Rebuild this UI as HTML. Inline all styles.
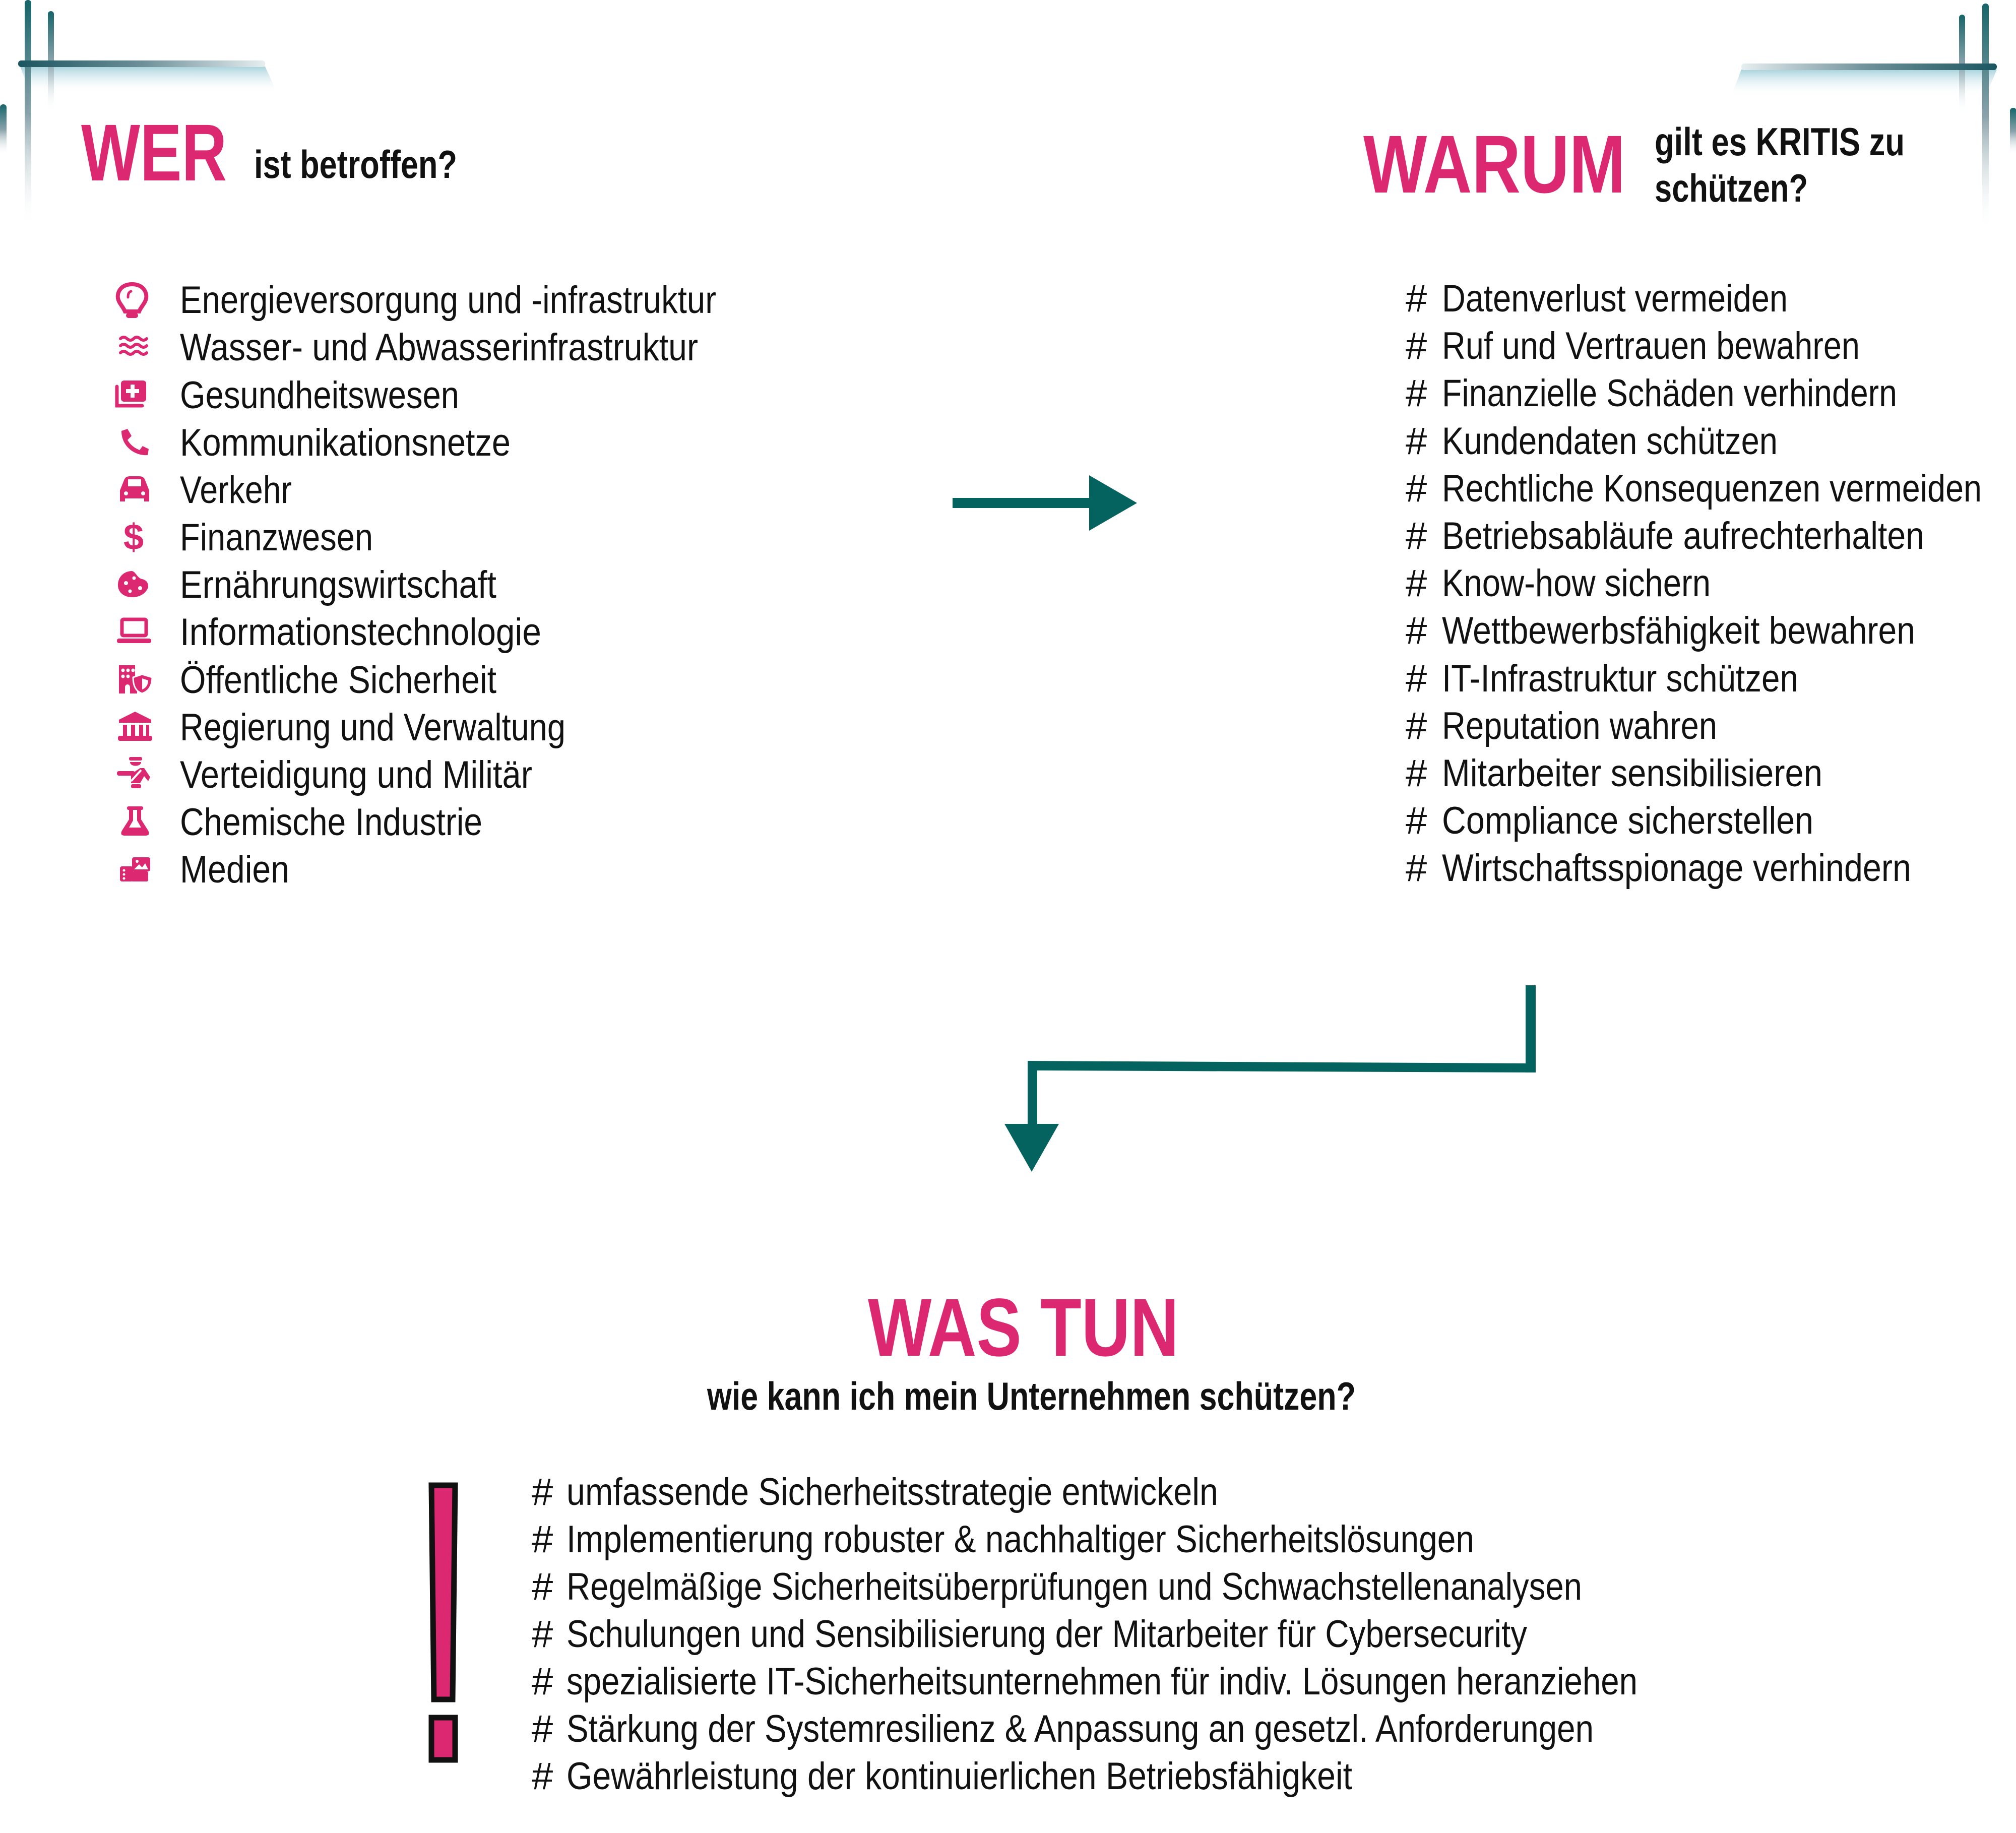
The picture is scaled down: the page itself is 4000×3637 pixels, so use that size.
<!DOCTYPE html>
<html><head><meta charset="utf-8"><style>
html,body{margin:0;padding:0;background:#fff;}
svg{display:block;}
text{font-family:"Liberation Sans Narrow","Liberation Sans",sans-serif;}
.r{font-size:76px;fill:#111;}
.b{font-weight:bold;fill:#111;}
.p{font-weight:bold;fill:#DC2870;}
</style></head><body>
<svg width="4000" height="3637" viewBox="0 0 4000 3637" xmlns="http://www.w3.org/2000/svg">
<defs>
<linearGradient id="vL" x1="0" y1="0" x2="0" y2="1"><stop offset="0" stop-color="#17656a"/><stop offset="0.5" stop-color="#8aa3ab"/><stop offset="1" stop-color="#fff" stop-opacity="0"/></linearGradient>
<linearGradient id="hL" x1="0" y1="0" x2="1" y2="0"><stop offset="0" stop-color="#1a5660"/><stop offset="0.5" stop-color="#6d8f98"/><stop offset="1" stop-color="#e6eef0"/></linearGradient>
<linearGradient id="hR" x1="1" y1="0" x2="0" y2="0"><stop offset="0" stop-color="#1a5660"/><stop offset="0.5" stop-color="#6d8f98"/><stop offset="1" stop-color="#e6eef0"/></linearGradient>
<linearGradient id="gl" x1="0" y1="0" x2="0" y2="1"><stop offset="0" stop-color="#a8d3dc"/><stop offset="1" stop-color="#fff" stop-opacity="0"/></linearGradient>
</defs>

<!-- top-left decoration -->
<polygon points="40,132 526,132 550,185 60,185" fill="url(#gl)"/>
<rect x="49" y="0" width="13" height="450" rx="6" fill="url(#vL)"/>
<rect x="95" y="22" width="12" height="200" rx="6" fill="url(#vL)"/>
<rect x="36" y="120" width="490" height="13" rx="6" fill="url(#hL)"/>
<rect x="0" y="207" width="13" height="101" rx="6" fill="url(#vL)"/>

<!-- top-right decoration -->
<polygon points="3455,138 3962,138 3940,190 3435,190" fill="url(#gl)"/>
<rect x="3933" y="7" width="13" height="450" rx="6" fill="url(#vL)"/>
<rect x="3887" y="29" width="12" height="198" rx="6" fill="url(#vL)"/>
<rect x="3455" y="126" width="507" height="13" rx="6" fill="url(#hR)"/>
<rect x="3988" y="214" width="13" height="94" rx="6" fill="url(#vL)"/>

<!-- headings -->
<text class="p" x="161" y="358" font-size="160" textLength="289" lengthAdjust="spacingAndGlyphs">WER</text>
<text class="b" x="504" y="353" font-size="78" textLength="403" lengthAdjust="spacingAndGlyphs">ist betroffen?</text>
<text class="p" x="2705" y="382" font-size="163" textLength="520" lengthAdjust="spacingAndGlyphs">WARUM</text>
<text class="b" x="3283" y="308" font-size="78" textLength="496" lengthAdjust="spacingAndGlyphs">gilt es KRITIS zu</text>
<text class="b" x="3283" y="400" font-size="78" textLength="304" lengthAdjust="spacingAndGlyphs">schützen?</text>

<!-- left list -->
<g class="r">
<text x="357" y="621" textLength="1064" lengthAdjust="spacingAndGlyphs">Energieversorgung und -infrastruktur</text>
<text x="357" y="715" textLength="1028" lengthAdjust="spacingAndGlyphs">Wasser- und Abwasserinfrastruktur</text>
<text x="357" y="810" textLength="554" lengthAdjust="spacingAndGlyphs">Gesundheitswesen</text>
<text x="357" y="904" textLength="656" lengthAdjust="spacingAndGlyphs">Kommunikationsnetze</text>
<text x="357" y="998" textLength="222" lengthAdjust="spacingAndGlyphs">Verkehr</text>
<text x="357" y="1092" textLength="383" lengthAdjust="spacingAndGlyphs">Finanzwesen</text>
<text x="357" y="1186" textLength="628" lengthAdjust="spacingAndGlyphs">Ernährungswirtschaft</text>
<text x="357" y="1280" textLength="717" lengthAdjust="spacingAndGlyphs">Informationstechnologie</text>
<text x="357" y="1375" textLength="628" lengthAdjust="spacingAndGlyphs">Öffentliche Sicherheit</text>
<text x="357" y="1469" textLength="765" lengthAdjust="spacingAndGlyphs">Regierung und Verwaltung</text>
<text x="357" y="1563" textLength="699" lengthAdjust="spacingAndGlyphs">Verteidigung und Militär</text>
<text x="357" y="1657" textLength="600" lengthAdjust="spacingAndGlyphs">Chemische Industrie</text>
<text x="357" y="1751" textLength="217" lengthAdjust="spacingAndGlyphs">Medien</text>
</g>

<!-- icons -->
<g fill="#DC2870" stroke="none">
<!-- bulb -->
<g transform="translate(262,594)">
<path d="M0,-30 C-22,-30 -30,-14 -28,-2 C-26,8 -18,14 -14,24 L14,24 C18,14 26,8 28,-2 C30,-14 22,-30 0,-30 Z" fill="none" stroke="#DC2870" stroke-width="8"/>
<path d="M-2,-16 C-8,-14 -8,-8 -8,-4" fill="none" stroke="#DC2870" stroke-width="5" stroke-linecap="round"/>
<rect x="-12" y="27" width="24" height="10" rx="5"/>
</g>
<!-- waves -->
<g transform="translate(265,688)" fill="none" stroke="#DC2870" stroke-width="6" stroke-linecap="round">
<path d="M-26,-16 q6,-6 13,0 t13,0 t13,0 t13,0"/>
<path d="M-26,-2 q6,-6 13,0 t13,0 t13,0 t13,0"/>
<path d="M-26,12 q6,-6 13,0 t13,0 t13,0 t13,0"/>
</g>
<!-- medical -->
<g transform="translate(262,783)">
<path d="M-30,-16 L-30,22 L20,22" fill="none" stroke="#DC2870" stroke-width="7" stroke-linecap="round"/>
<rect x="-22" y="-28" width="50" height="42" rx="6"/>
<rect x="-3" y="-20" width="8" height="26" fill="#fff"/><rect x="-12" y="-11" width="26" height="8" fill="#fff"/>
</g>
<!-- phone -->
<g transform="translate(265,877)">
<path d="M-24,-22 L-12,-26 L-4,-12 L-12,-4 C-6,6 2,12 12,16 L18,8 L30,14 L28,26 C4,28 -24,10 -24,-22 Z"/>
</g>
<!-- car -->
<g transform="translate(266,971)">
<path d="M-28,2 L-20,-18 C-18,-24 -14,-26 -8,-26 L10,-26 C16,-26 20,-24 22,-18 L30,2 L30,24 L20,24 L20,18 L-18,18 L-18,24 L-28,24 Z"/>
<rect x="-12" y="-20" width="26" height="14" fill="#fff"/>
<circle cx="-16" cy="8" r="4" fill="#fff"/><circle cx="18" cy="8" r="4" fill="#fff"/>
</g>
<!-- dollar -->
<text x="265" y="1090" text-anchor="middle" font-size="72" font-weight="bold" fill="#DC2870">$</text>
<!-- cookie -->
<g transform="translate(264,1159)">
<path d="M-30,2 C-30,-18 -14,-26 -2,-26 C6,-24 8,-12 18,-10 C26,-8 30,-4 30,6 C26,18 14,26 -2,26 C-18,26 -30,16 -30,2 Z"/>
<circle cx="-14" cy="-2" r="4" fill="#fff"/><circle cx="2" cy="-12" r="3.5" fill="#fff"/><circle cx="14" cy="8" r="4" fill="#fff"/><circle cx="-6" cy="14" r="3.5" fill="#fff"/>
</g>
<!-- laptop -->
<g transform="translate(266,1253)">
<rect x="-24" y="-24" width="48" height="32" fill="none" stroke="#DC2870" stroke-width="7" rx="3"/>
<rect x="-34" y="14" width="68" height="9" rx="4"/>
</g>
<!-- building shield -->
<g transform="translate(268,1348)">
<path d="M-32,-28 L0,-28 L0,-2 L4,-2 L4,28 L-10,28 L-10,16 C-10,8 -20,8 -20,16 L-20,28 L-32,28 Z"/>
<circle cx="-24" cy="-18" r="3.5" fill="#fff"/><circle cx="-14" cy="-18" r="3.5" fill="#fff"/><circle cx="-4" cy="-18" r="3.5" fill="#fff"/>
<circle cx="-24" cy="-6" r="3.5" fill="#fff"/><circle cx="-14" cy="-6" r="3.5" fill="#fff"/>
<path d="M14,-10 L34,-4 C34,14 26,24 14,28 C2,24 -4,14 -4,-4 Z" fill="#DC2870" stroke="#fff" stroke-width="3"/>
<path d="M14,-2 L26,2 C26,12 20,18 14,20 Z" fill="#fff"/>
</g>
<!-- bank -->
<g transform="translate(268,1442)">
<path d="M-32,-14 L0,-30 L32,-14 L32,-8 L-32,-8 Z"/>
<rect x="-24" y="-4" width="8" height="22"/><rect x="-8" y="-4" width="8" height="22"/><rect x="8" y="-4" width="8" height="22"/><rect x="22" y="-4" width="6" height="22"/>
<rect x="-34" y="18" width="68" height="10" rx="4"/>
</g>
<!-- police -->
<g transform="translate(266,1536)">
<rect x="-10" y="-34" width="26" height="7" rx="3"/>
<path d="M-8,-24 L14,-24 C14,-14 -8,-14 -8,-24 Z"/>
<rect x="-34" y="-6" width="36" height="9" rx="4"/>
<path d="M-6,0 L12,-12 L20,-12 L32,6 L28,14 L20,4 L12,18 L-6,18 Z"/>
<path d="M-6,14 L14,-8" stroke="#fff" stroke-width="4"/>
<rect x="-6" y="20" width="20" height="8" rx="3"/>
</g>
<!-- flask -->
<g transform="translate(268,1630)">
<rect x="-16" y="-30" width="32" height="7" rx="3"/>
<path d="M-12,-24 L-12,-4 L-26,18 C-30,26 -26,28 -20,28 L20,28 C26,28 30,26 26,18 L12,-4 L12,-24 L4,-24 L4,-2 L12,12 L-12,12 L-4,-2 L-4,-24 Z"/>
</g>
<!-- media -->
<g transform="translate(268,1725)">
<rect x="-30" y="-6" width="26" height="30" rx="4"/>
<rect x="-6" y="-24" width="36" height="28" rx="4"/>
<rect x="-8" y="4" width="34" height="20" rx="3"/>
<path d="M-2,0 L8,-10 L14,-4 L20,-12 L26,0 Z" fill="#fff"/>
<circle cx="4" cy="-16" r="3" fill="#fff"/>
<circle cx="-22" cy="2" r="2.5" fill="#fff"/><circle cx="-22" cy="10" r="2.5" fill="#fff"/><circle cx="-22" cy="18" r="2.5" fill="#fff"/>
</g>
</g>

<!-- right list -->
<g class="r">
<text x="2789" y="618">#</text><text x="2861" y="618" textLength="686" lengthAdjust="spacingAndGlyphs">Datenverlust vermeiden</text>
<text x="2789" y="712">#</text><text x="2861" y="712" textLength="829" lengthAdjust="spacingAndGlyphs">Ruf und Vertrauen bewahren</text>
<text x="2789" y="806">#</text><text x="2861" y="806" textLength="903" lengthAdjust="spacingAndGlyphs">Finanzielle Schäden verhindern</text>
<text x="2789" y="901">#</text><text x="2861" y="901" textLength="666" lengthAdjust="spacingAndGlyphs">Kundendaten schützen</text>
<text x="2789" y="995">#</text><text x="2861" y="995" textLength="1071" lengthAdjust="spacingAndGlyphs">Rechtliche Konsequenzen vermeiden</text>
<text x="2789" y="1089">#</text><text x="2861" y="1089" textLength="957" lengthAdjust="spacingAndGlyphs">Betriebsabläufe aufrechterhalten</text>
<text x="2789" y="1183">#</text><text x="2861" y="1183" textLength="533" lengthAdjust="spacingAndGlyphs">Know-how sichern</text>
<text x="2789" y="1277">#</text><text x="2861" y="1277" textLength="939" lengthAdjust="spacingAndGlyphs">Wettbewerbsfähigkeit bewahren</text>
<text x="2789" y="1372">#</text><text x="2861" y="1372" textLength="707" lengthAdjust="spacingAndGlyphs">IT-Infrastruktur schützen</text>
<text x="2789" y="1466">#</text><text x="2861" y="1466" textLength="546" lengthAdjust="spacingAndGlyphs">Reputation wahren</text>
<text x="2789" y="1560">#</text><text x="2861" y="1560" textLength="755" lengthAdjust="spacingAndGlyphs">Mitarbeiter sensibilisieren</text>
<text x="2789" y="1654">#</text><text x="2861" y="1654" textLength="737" lengthAdjust="spacingAndGlyphs">Compliance sicherstellen</text>
<text x="2789" y="1748">#</text><text x="2861" y="1748" textLength="931" lengthAdjust="spacingAndGlyphs">Wirtschaftsspionage verhindern</text>
</g>

<!-- arrows -->
<g fill="#04625F">
<rect x="1890" y="988" width="275" height="20"/>
<polygon points="2161,943 2256,998 2161,1053"/>
<rect x="3027" y="1955" width="20" height="173"/>
<polygon points="2039,2105 3047,2110 3047,2128 2058,2124 2058,2232 2039,2232"/>
<polygon points="1993,2230 2101,2230 2047,2325"/>
</g>

<!-- WAS TUN -->
<text class="p" x="1722" y="2690" font-size="163" textLength="617" lengthAdjust="spacingAndGlyphs">WAS TUN</text>
<text class="b" x="1403" y="2797" font-size="78" textLength="1287" lengthAdjust="spacingAndGlyphs">wie kann ich mein Unternehmen schützen?</text>

<!-- exclamation -->
<polygon points="856,2947 903,2947 898,3372 861,3372" fill="#DC2870" stroke="#111" stroke-width="11"/>
<rect x="856" y="3408" width="47" height="84" fill="#DC2870" stroke="#111" stroke-width="11"/>

<!-- bottom list -->
<g class="r">
<text x="1055" y="2986">#</text><text x="1124" y="2986" textLength="1293" lengthAdjust="spacingAndGlyphs">umfassende Sicherheitsstrategie entwickeln</text>
<text x="1055" y="3080">#</text><text x="1124" y="3080" textLength="1801" lengthAdjust="spacingAndGlyphs">Implementierung robuster &amp; nachhaltiger Sicherheitslösungen</text>
<text x="1055" y="3174">#</text><text x="1124" y="3174" textLength="2015" lengthAdjust="spacingAndGlyphs">Regelmäßige Sicherheitsüberprüfungen und Schwachstellenanalysen</text>
<text x="1055" y="3268">#</text><text x="1124" y="3268" textLength="1906" lengthAdjust="spacingAndGlyphs">Schulungen und Sensibilisierung der Mitarbeiter für Cybersecurity</text>
<text x="1055" y="3362">#</text><text x="1124" y="3362" textLength="2125" lengthAdjust="spacingAndGlyphs">spezialisierte IT-Sicherheitsunternehmen für indiv. Lösungen heranziehen</text>
<text x="1055" y="3456">#</text><text x="1124" y="3456" textLength="2038" lengthAdjust="spacingAndGlyphs">Stärkung der Systemresilienz &amp; Anpassung an gesetzl. Anforderungen</text>
<text x="1055" y="3550">#</text><text x="1124" y="3550" textLength="1559" lengthAdjust="spacingAndGlyphs">Gewährleistung der kontinuierlichen Betriebsfähigkeit</text>
</g>
</svg>
</body></html>
